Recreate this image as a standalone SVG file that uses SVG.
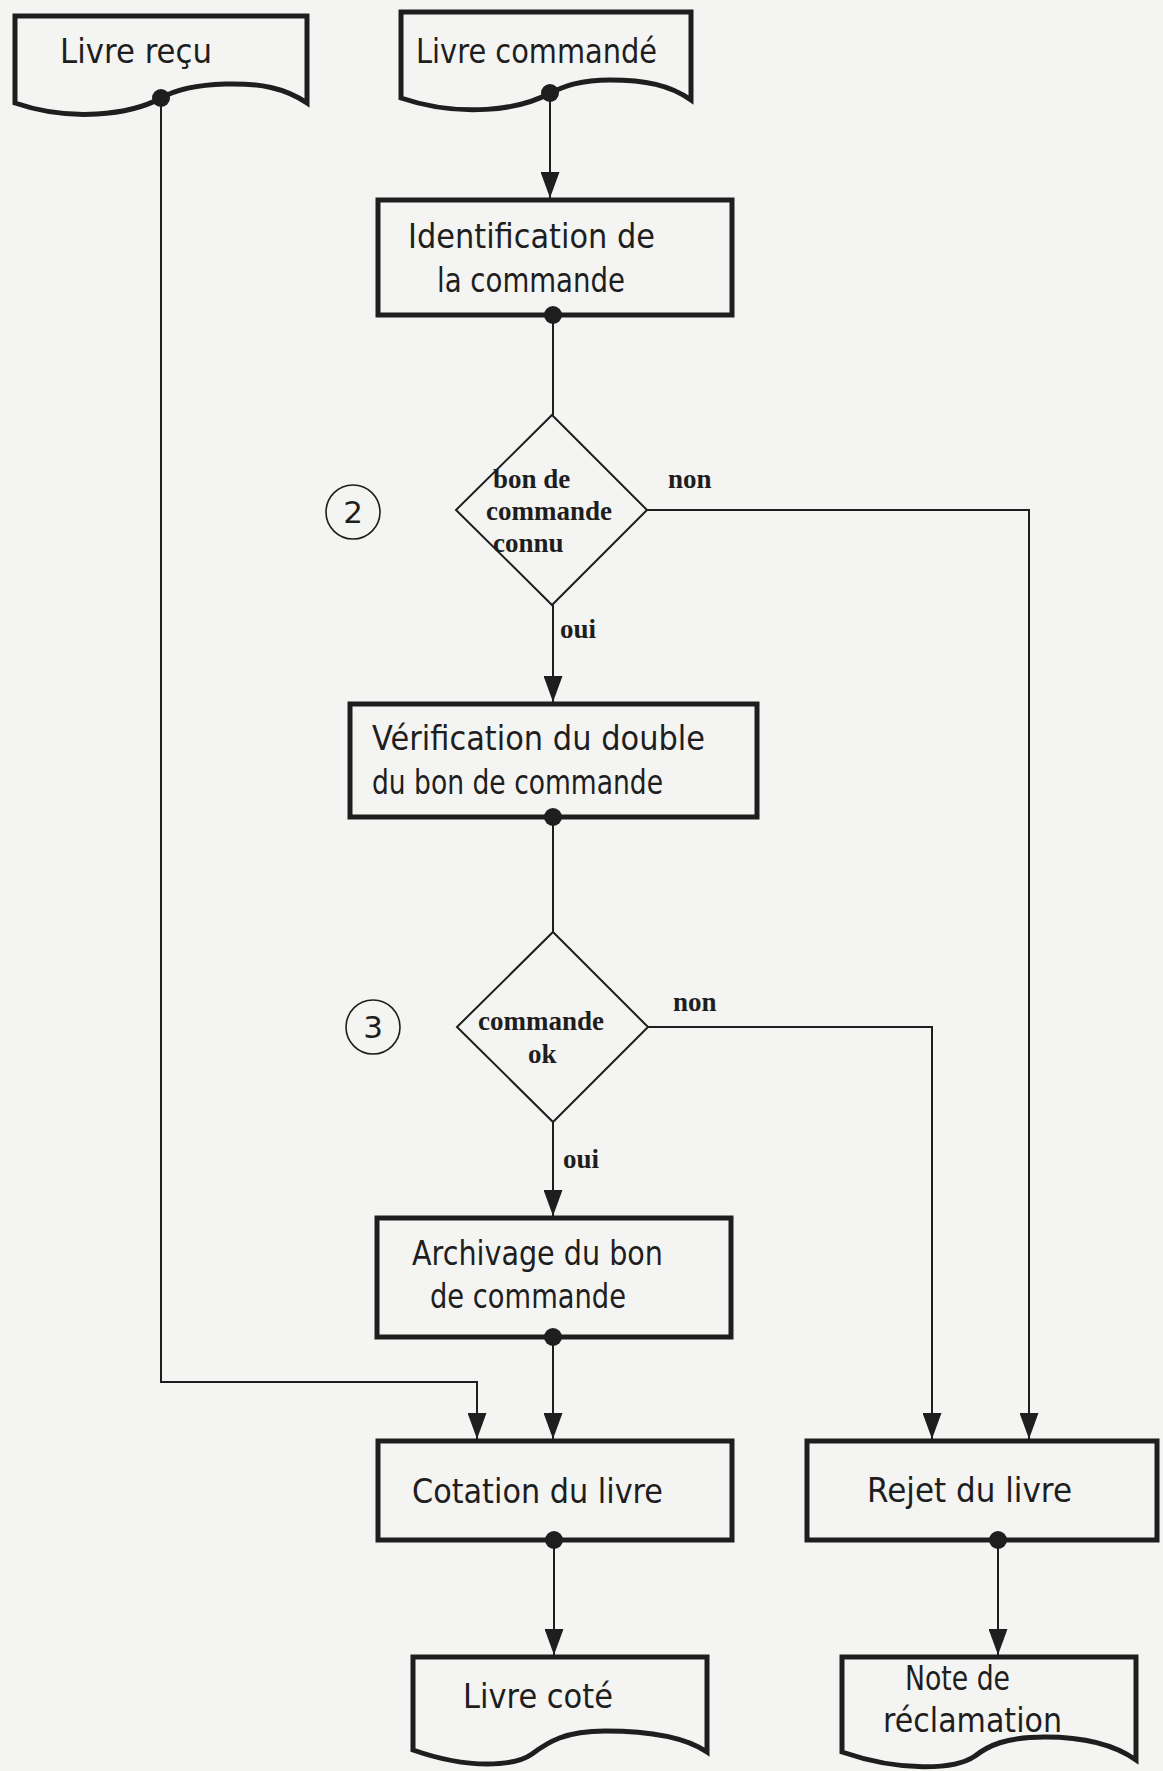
<svg xmlns="http://www.w3.org/2000/svg" width="1163" height="1771" viewBox="0 0 1163 1771">
<style>
.bg{fill:#f4f4f2}
.box{fill:none;stroke:#1e1e1e;stroke-width:5}
.dec{fill:none;stroke:#1e1e1e;stroke-width:2}
.ring{fill:none;stroke:#1e1e1e;stroke-width:1.6}
.t{font-family:"DejaVu Sans","Liberation Sans",sans-serif;font-size:34px;fill:#1e1e1e}
.s{font-family:"Liberation Serif","Times New Roman",serif;font-size:27px;font-weight:bold;fill:#1e1e1e}
.n{font-family:"DejaVu Sans","Liberation Sans",sans-serif;font-size:31px;fill:#1e1e1e;text-anchor:middle}
.c{fill:none;stroke:#1e1e1e;stroke-width:2}
.dot{fill:#1e1e1e}
</style>
<defs>
<marker id="arr" viewBox="0 0 26 19" refX="26" refY="9.5" markerWidth="26" markerHeight="19" markerUnits="userSpaceOnUse" orient="auto">
<path d="M0,0 L26,9.5 L0,19 Z" fill="#1e1e1e"/>
</marker>
</defs>
<rect class="bg" x="0" y="0" width="1163" height="1771"/>

<g id="connectors">
<path class="c" d="M161,98 V1382 H477 V1439" marker-end="url(#arr)"/>
<path class="c" d="M550,93 V198" marker-end="url(#arr)"/>
<path class="c" d="M553,315 V415"/>
<path class="c" d="M553,605 V702" marker-end="url(#arr)"/>
<path class="c" d="M553,817 V932"/>
<path class="c" d="M553,1122 V1216" marker-end="url(#arr)"/>
<path class="c" d="M553,1337 V1439" marker-end="url(#arr)"/>
<path class="c" d="M647,510 H1029 V1439" marker-end="url(#arr)"/>
<path class="c" d="M648,1027 H932 V1439" marker-end="url(#arr)"/>
<path class="c" d="M554,1540 V1655" marker-end="url(#arr)"/>
<path class="c" d="M998,1540 V1655" marker-end="url(#arr)"/>
</g>

<g id="livre-recu">
<path class="box" d="M15,103 V16 H307 V103 C285,88 260,83 225,84 C195,85 175,90 161,98 C130,115 70,122 15,103 Z"/>
<text class="t" x="60" y="63" textLength="152" lengthAdjust="spacingAndGlyphs">Livre reçu</text>
<circle class="dot" cx="161" cy="98" r="9"/>
</g>

<g id="livre-commande">
<path class="box" d="M401,98 V12 H691 V100 C670,85 645,80 610,80 C580,80 565,86 550,93 C520,110 460,118 401,98 Z"/>
<text class="t" x="416" y="63" textLength="241" lengthAdjust="spacingAndGlyphs">Livre commandé</text>
<circle class="dot" cx="550" cy="93" r="9"/>
</g>

<g id="identification">
<rect class="box" x="378" y="200" width="354" height="115"/>
<text class="t" x="408" y="248" textLength="247" lengthAdjust="spacingAndGlyphs">Identification de</text>
<text class="t" x="437" y="292" textLength="188" lengthAdjust="spacingAndGlyphs">la commande</text>
<circle class="dot" cx="553" cy="315" r="9"/>
</g>

<g id="decision-1">
<path class="dec" d="M552,415 L647,510 L552,605 L456,510 Z"/>
<text class="s" x="493" y="488">bon de</text>
<text class="s" x="486" y="520">commande</text>
<text class="s" x="493" y="552">connu</text>
<text class="s" x="668" y="488">non</text>
<text class="s" x="560" y="638">oui</text>
</g>

<g id="step-2">
<circle class="ring" cx="353" cy="512" r="27"/>
<text class="n" x="353" y="523">2</text>
</g>

<g id="verification">
<rect class="box" x="350" y="704" width="407" height="113"/>
<text class="t" x="372" y="750" textLength="333" lengthAdjust="spacingAndGlyphs">Vérification du double</text>
<text class="t" x="372" y="794" textLength="291" lengthAdjust="spacingAndGlyphs">du bon de commande</text>
<circle class="dot" cx="553" cy="817" r="9"/>
</g>

<g id="decision-2">
<path class="dec" d="M553,932 L648,1027 L553,1122 L457,1027 Z"/>
<text class="s" x="478" y="1030">commande</text>
<text class="s" x="528" y="1063">ok</text>
<text class="s" x="673" y="1011">non</text>
<text class="s" x="563" y="1168">oui</text>
</g>

<g id="step-3">
<circle class="ring" cx="373" cy="1027" r="27"/>
<text class="n" x="373" y="1038">3</text>
</g>

<g id="archivage">
<rect class="box" x="377" y="1218" width="354" height="119"/>
<text class="t" x="412" y="1265" textLength="251" lengthAdjust="spacingAndGlyphs">Archivage du bon</text>
<text class="t" x="430" y="1308" textLength="196" lengthAdjust="spacingAndGlyphs">de commande</text>
<circle class="dot" cx="553" cy="1337" r="9"/>
</g>

<g id="cotation">
<rect class="box" x="378" y="1441" width="354" height="99"/>
<text class="t" x="412" y="1503" textLength="251" lengthAdjust="spacingAndGlyphs">Cotation du livre</text>
<circle class="dot" cx="554" cy="1540" r="9"/>
</g>

<g id="rejet">
<rect class="box" x="807" y="1441" width="350" height="99"/>
<text class="t" x="867" y="1502" textLength="205" lengthAdjust="spacingAndGlyphs">Rejet du livre</text>
<circle class="dot" cx="998" cy="1540" r="9"/>
</g>

<g id="livre-cote">
<path class="box" d="M413,1750 V1657 H707 V1752 C685,1737 650,1731 605,1731 C565,1731 548,1742 532,1754 C515,1766 470,1770 413,1750 Z"/>
<text class="t" x="463" y="1708" textLength="150" lengthAdjust="spacingAndGlyphs">Livre coté</text>
</g>

<g id="note-reclamation">
<path class="box" d="M842,1752 V1657 H1136 V1760 C1115,1745 1085,1737 1045,1737 C1005,1737 988,1746 975,1756 C955,1770 900,1772 842,1752 Z"/>
<text class="t" x="905" y="1690" textLength="105" lengthAdjust="spacingAndGlyphs">Note de</text>
<text class="t" x="883" y="1732" textLength="179" lengthAdjust="spacingAndGlyphs">réclamation</text>
</g>
</svg>
